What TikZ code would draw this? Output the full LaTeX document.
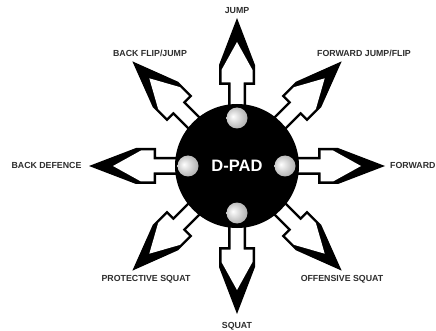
\documentclass[tikz,border=0pt]{standalone}
\usepackage{fontspec}
\newfontfamily\labfont{Liberation Sans}
\begin{document}
\pgfdeclareradialshading{sph}{\pgfpoint{-10bp}{4bp}}{color(0bp)=(white); color(18bp)=(black!20); color(40bp)=(black!42); color(47bp)=(black!60); color(50bp)=(black!70)}
\begin{tikzpicture}[x=1pt,y=-1pt,
  lab/.style={font=\labfont\bfseries\fontsize{8.8}{10}\selectfont, text=black!82, inner sep=0pt},
  padarrow/.pic={
    \fill[black] (50,-9) -- (81,-9) -- (81,-18) -- (101,-18) -- (148,0) -- (101,18) -- (81,18) -- (81,9) -- (50,9) -- cycle;
    \fill[white] (50,-6.5) -- (83.5,-6.5) -- (83.5,-15.5) -- (96,-15.5) -- (124,0) -- (96,15.5) -- (83.5,15.5) -- (83.5,6.5) -- (50,6.5) -- cycle;
  },
  sphere/.style={shading=sph}
]
\useasboundingbox (0,0) rectangle (436,331);
\fill[white] (0,0) rectangle (436,331);
\coordinate (c) at (237,166);
\foreach \a in {0,45,...,315}{
  \path (c) pic[rotate=\a] {padarrow};
}
\node[circle, fill=black, minimum size=124pt, inner sep=0pt] (pad) at (c) {};
\shade[sphere] (237,118) circle (10.5);
\shade[sphere] (237,213) circle (10.5);
\shade[sphere] (188,166) circle (10.5);
\shade[sphere] (285,166) circle (10.5);
\node[font=\labfont\bfseries\fontsize{16.5}{18}\selectfont, text=white] (dpad) at (237,166) {D-PAD};
\node[lab] (jump) at (237,11) {JUMP};
\node[lab] (bflip) at (150,53) {BACK FLIP/JUMP};
\node[lab] (fjump) at (364,53) {FORWARD JUMP/FLIP};
\node[lab] (bdef) at (46.5,165) {BACK DEFENCE};
\node[lab, anchor=west] (fwd) at (390,165) {FORWARD};
\node[lab] (psq) at (146,279) {PROTECTIVE SQUAT};
\node[lab] (osq) at (342,279) {OFFENSIVE SQUAT};
\node[lab] (sq) at (237,326) {SQUAT};
\end{tikzpicture}
\end{document}
